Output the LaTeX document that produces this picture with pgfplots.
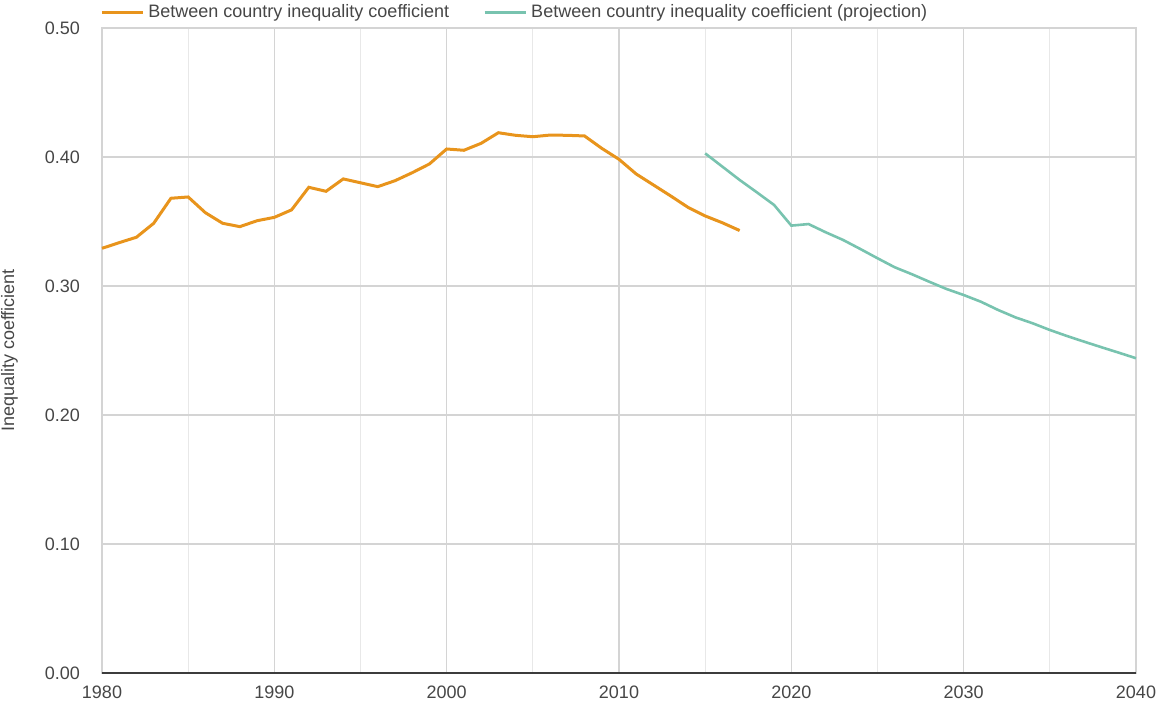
\documentclass[border=0pt]{standalone}
\usepackage{fontspec}
\setmainfont{Liberation Sans}
\usepackage{pgfplots}
\pgfplotsset{compat=1.18}
\definecolor{cOrange}{RGB}{232,148,28}
\definecolor{cTeal}{RGB}{120,195,175}
\definecolor{cGrid}{RGB}{212,212,212}
\definecolor{cMinor}{RGB}{232,232,232}
\definecolor{cText}{RGB}{70,70,70}
\begin{document}
\begin{tikzpicture}
\begin{axis}[
  scale only axis,
  width=517pt, height=322.5pt,
  xmin=1980, xmax=2040, ymin=0, ymax=0.5,
  xtick={1980,1990,2000,2010,2020,2030,2040},
  minor xtick={1985,1995,2005,2015,2025,2035},
  ytick={0,0.1,0.2,0.3,0.4,0.5},
  major tick length=0pt, minor tick length=0pt,
  xmajorgrids, xminorgrids, ymajorgrids,
  major grid style={draw=cGrid, line width=0.6pt},
  minor grid style={draw=cMinor, line width=0.6pt},
  axis line style={draw=cGrid, line width=0.6pt},
  /pgf/number format/assume math mode=true,
  xticklabel style={/pgf/number format/1000 sep={}, yshift=-3pt},
  yticklabel style={/pgf/number format/fixed, /pgf/number format/fixed zerofill, /pgf/number format/precision=2, xshift=-7.5pt},
  tick label style={font=\fontsize{9}{10}\selectfont, text=cText},
  ylabel={Inequality coefficient},
  ylabel style={font=\fontsize{9}{10}\selectfont, text=cText, at={(axis description cs:0,0.5)}, anchor=south, yshift=38.5pt},
  legend columns=2,
  legend style={at={(axis description cs:0,1)}, anchor=south west, draw=none, fill=none,
    inner xsep=0pt, inner ysep=0pt, yshift=1.5pt, xshift=-1pt,
    font=\fontsize{9}{10}\selectfont, text=cText,
    /tikz/every even column/.append style={column sep=15pt}},
  legend cell align=left,
  legend image code/.code={\draw[#1, line width=1.5pt] (0pt,0pt) -- (20.5pt,0pt);},
  clip=false,
]
\addplot[cOrange, line width=1.5pt] coordinates {
(1980,0.3292) (1981,0.3336) (1982,0.3378) (1983,0.3486) (1984,0.3680)
(1985,0.3690) (1986,0.3568) (1987,0.3486) (1988,0.3460) (1989,0.3506)
(1990,0.3532) (1991,0.3590) (1992,0.3765) (1993,0.3734) (1994,0.3830)
(1995,0.3800) (1996,0.3770) (1997,0.3816) (1998,0.3878) (1999,0.3946)
(2000,0.4062) (2001,0.4052) (2002,0.4106) (2003,0.4188) (2004,0.4168)
(2005,0.4157) (2006,0.4170) (2007,0.4168) (2008,0.4163) (2009,0.4067)
(2010,0.3982) (2011,0.3868) (2012,0.3783) (2013,0.3698) (2014,0.3610)
(2015,0.3543) (2016,0.3490) (2017,0.3430)
};
\addlegendentry{Between country inequality coefficient}
\addplot[cTeal, line width=1.3pt] coordinates {
(2015,0.4028) (2016,0.3925) (2017,0.3822) (2018,0.3726) (2019,0.3628)
(2020,0.3468) (2021,0.3480) (2022,0.3416) (2023,0.3357) (2024,0.3287)
(2025,0.3215) (2026,0.3145) (2027,0.3091) (2028,0.3033) (2029,0.2977)
(2030,0.2930) (2031,0.2878) (2032,0.2814) (2033,0.2757) (2034,0.2711)
(2035,0.2659) (2036,0.2612) (2037,0.2568) (2038,0.2525) (2039,0.2483)
(2040,0.2440)
};
\addlegendentry{Between country inequality coefficient (projection)}
\draw[draw={rgb,255:red,60;green,60;blue,60}, line width=1pt] (rel axis cs:0,0) -- (rel axis cs:1,0);
\coordinate (BL) at (rel axis cs:0,0);
\coordinate (TR) at (rel axis cs:1,1);
\end{axis}
\pgfresetboundingbox
\path[use as bounding box] ([xshift=-51pt,yshift=-14.5pt]BL) rectangle ([xshift=10pt,yshift=14pt]TR);
\end{tikzpicture}
\end{document}
